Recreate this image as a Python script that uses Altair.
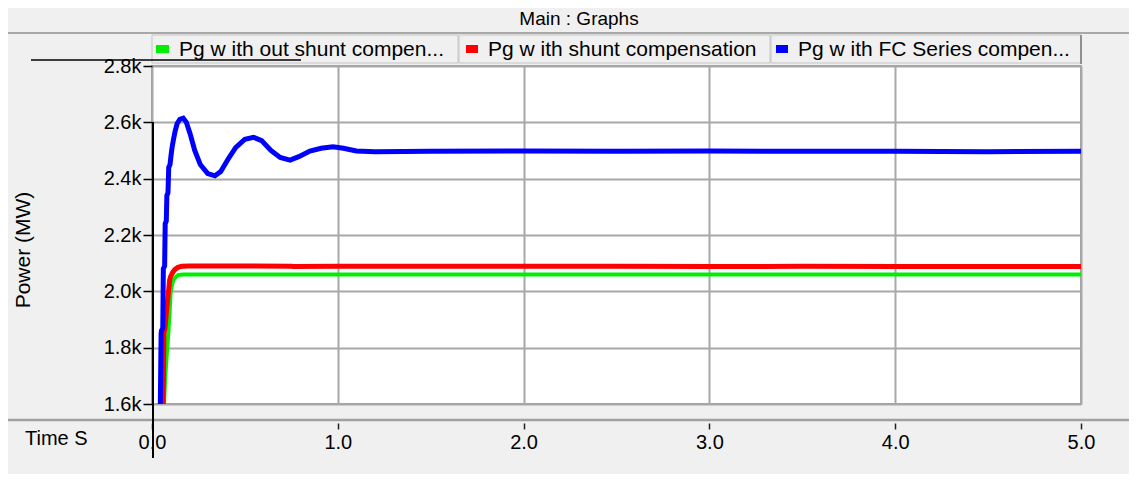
import altair as alt
import pandas as pd

# ---- data ----
series_names = ["Pg w ith out shunt compen...", "Pg w ith shunt compensation", "Pg w ith FC Series compen..."]
series_colors = ["#00ee00", "#ff0000", "#0000ff"]

green_t = [0.062, 0.070, 0.080, 0.088, 0.095, 0.100, 0.108, 0.115, 0.130, 0.142, 0.170, 0.500, 1.000, 2.000, 3.000, 4.000, 5.000]
green_p = [1550, 1685, 1780, 1852, 1930, 1994, 2025, 2040, 2052, 2058, 2060, 2060, 2060, 2060, 2060, 2060, 2060]

red_t = [0.055, 0.060, 0.064, 0.070, 0.078, 0.088, 0.095, 0.100, 0.112, 0.124, 0.140, 0.160, 0.200, 0.400, 0.750, 0.760, 1.000, 1.500, 2.000, 2.500, 3.000, 3.500, 4.000, 4.500, 5.000]
red_p = [1550, 1600, 1850, 1870, 1930, 1994, 2040, 2052, 2068, 2078, 2085, 2089, 2090, 2090, 2089, 2088, 2089, 2089, 2089, 2089, 2088, 2089, 2088, 2088, 2088]

blue_t = [0.044, 0.049, 0.051, 0.058, 0.061, 0.068, 0.071, 0.077, 0.080, 0.086, 0.090, 0.097, 0.102, 0.108, 0.115, 0.125, 0.135, 0.150, 0.168, 0.185, 0.205, 0.230, 0.260, 0.300, 0.339, 0.370, 0.410, 0.450, 0.500, 0.546, 0.590, 0.640, 0.690, 0.743, 0.790, 0.850, 0.910, 0.974, 1.030, 1.100, 1.200, 1.500, 2.000, 2.500, 3.000, 3.500, 4.000, 4.500, 5.000]
blue_p = [1550, 1850, 1860, 1870, 2080, 2090, 2240, 2250, 2340, 2350, 2440, 2450, 2480, 2510, 2537, 2570, 2595, 2611, 2615, 2600, 2560, 2500, 2450, 2418, 2410, 2425, 2470, 2510, 2540, 2547, 2535, 2500, 2475, 2466, 2478, 2498, 2508, 2513, 2508, 2498, 2496, 2497, 2498, 2497, 2498, 2497, 2497, 2496, 2497]

x_ticks = [0, 1, 2, 3, 4, 5]
y_ticks = [1600, 1800, 2000, 2200, 2400, 2600, 2800]

FONT = "Liberation Sans"
W, H = 929, 338

def series_df(t, p, name):
    return pd.DataFrame({"t": t, "p": p, "s": name})

x_scale = alt.Scale(domain=[0, 5], nice=False, zero=False)
y_scale = alt.Scale(domain=[1600, 2800], nice=False, zero=False)
color_scale = alt.Scale(domain=series_names, range=series_colors)

x_axis = alt.Axis(values=x_ticks, format=".1f", title=None, offset=19, domain=False,
                  tickColor="#222222", tickSize=6, tickWidth=1.5, labelPadding=3,
                  labelFlush=False, labelOverlap=False,
                  labelFont=FONT, labelFontSize=20, labelColor="#000000",
                  grid=True, gridColor="#a8a8a8", gridWidth=2)
y_axis = alt.Axis(values=y_ticks, format=".2s", title=None, domain=False,
                  tickColor="#000000", tickSize=9, tickWidth=1.5, labelPadding=2,
                  labelFlush=False, labelOverlap=False,
                  labelFont=FONT, labelFontSize=20, labelColor="#000000",
                  grid=True, gridColor="#a8a8a8", gridWidth=2)

def line_layer(t, p, name, width):
    return alt.Chart(series_df(t, p, name)).mark_line(clip=True, strokeWidth=width).encode(
        x=alt.X("t:Q", scale=x_scale, axis=x_axis),
        y=alt.Y("p:Q", scale=y_scale, axis=y_axis),
        color=alt.Color("s:N", scale=color_scale, legend=None),
    )

one = pd.DataFrame({"k": [0]})

def text_at(txt, x, y, size=20, align="left", angle=0):
    return alt.Chart(one).mark_text(text=txt, font=FONT, fontSize=size, align=align,
                                    baseline="middle", color="#000000", angle=angle).encode(
        x=alt.value(x), y=alt.value(y))

def rule_at(x, x2, y, y2, color, width):
    return alt.Chart(one).mark_rule(color=color, strokeWidth=width).encode(
        x=alt.value(x), x2=alt.value(x2), y=alt.value(y), y2=alt.value(y2))

def rect_at(x, x2, y, y2, fill, stroke):
    return alt.Chart(one).mark_rect(fill=fill, stroke=stroke, strokeWidth=1).encode(
        x=alt.value(x), x2=alt.value(x2), y=alt.value(y), y2=alt.value(y2))

layers = []
# frame decorations
layers.append(rule_at(-147, 993, -33, -33, "#a8a8a8", 2))
layers.append(rule_at(-147, 993, 354, 354, "#a0a0a0", 2.5))
layers.append(text_at("Main : Graphs", 427, -47, size=19, align="center"))
# legend cells
cells = [(0, 306), (307, 618), (619, 929)]
sq = [(4, 17), (314, 326), (624, 636)]
tx = [27, 336, 646]
for i in range(3):
    layers.append(rect_at(cells[i][0], cells[i][1], -31, -3, "#f0f0f0", "#c4c4c4"))
    layers.append(alt.Chart(one).mark_rect(fill=series_colors[i]).encode(
        x=alt.value(sq[i][0]), x2=alt.value(sq[i][1]), y=alt.value(-21), y2=alt.value(-13)))
    layers.append(text_at(series_names[i], tx[i], -16, size=21))
layers.append(rule_at(929, 929, -31, -2, "#909090", 2))
layers.append(rule_at(-121, 149, -6, -6, "#000000", 1.5))
# axis titles
layers.append(text_at("Power (MW)", -128, 184, size=21, align="center", angle=270))
layers.append(text_at("Time S", -127, 373, size=20))
# data lines
layers.append(line_layer(green_t, green_p, series_names[0], 4))
layers.append(line_layer(red_t, red_p, series_names[1], 5))
layers.append(line_layer(blue_t, blue_p, series_names[2], 5))
# black vertical axis line
layers.append(rule_at(1, 1, 56, 392, "#000000", 2))

chart = alt.layer(*layers).properties(
    width=W, height=H,
    autosize=alt.AutoSizeParams(type="none"),
    padding={"left": 144, "top": 58, "right": 48, "bottom": 70},
    background="#f0f0f0",
).configure_view(fill="#ffffff", stroke="#a0a0a0", strokeWidth=2)

chart.save("out.html", embed_options={"renderer": "svg", "actions": False})
